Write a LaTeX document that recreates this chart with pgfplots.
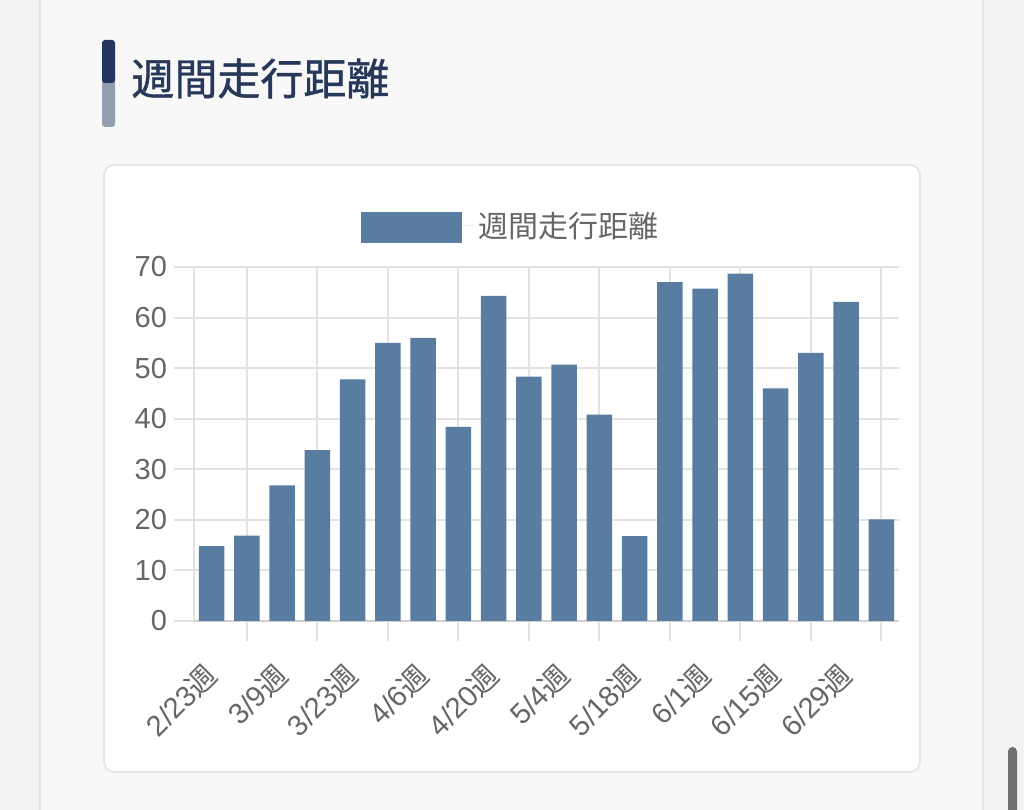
\documentclass[border=0pt]{standalone}
\usepackage{pgfplots}
\usepackage{pgfplotstable}
\pgfplotsset{compat=1.18}
\usepackage{fontspec}
\setmainfont{Liberation Sans}
\newfontfamily\cjk{Noto Sans CJK JP}
\newfontfamily\cjktitle{Noto Sans CJK JP}[FakeBold=1]
\newcommand\wk{{\cjk 週}}

\definecolor{barblue}{HTML}{587DA0}
\definecolor{titlecol}{HTML}{28385A}
\definecolor{accdark}{HTML}{22365F}
\definecolor{accgray}{HTML}{959EAE}
\definecolor{gridcol}{HTML}{E2E2E2}
\definecolor{zerocol}{HTML}{D0D0D0}
\definecolor{ticktext}{HTML}{666666}
\definecolor{outerbg}{HTML}{F3F3F1}
\definecolor{panelbg}{HTML}{F8F8F8}
\definecolor{panelline}{HTML}{E4E4E2}
\definecolor{cardline}{HTML}{E6E6E6}
\definecolor{scrollcol}{HTML}{707070}

\pgfplotstableread{
x y
0 14.8
1 16.9
2 26.8
3 33.8
4 47.8
5 55.0
6 56.0
7 38.4
8 64.3
9 48.3
10 50.7
11 40.8
12 16.8
13 67.0
14 65.7
15 68.7
16 46.0
17 53.0
18 63.1
19 20.1
}\weekdata

\begin{document}
\begin{tikzpicture}[x=0.5bp,y=0.5bp]
\useasboundingbox (0,0) rectangle (1024,810);
\fill[outerbg] (0,0) rectangle (1024,810);
\fill[panelbg] (40,0) rectangle (983,810);
\draw[panelline, line width=1.2bp] (40,0) -- (40,810);
\draw[panelline, line width=1.2bp] (983,0) -- (983,810);
% title accent
\fill[accgray, rounded corners=1.5bp] (102,683) rectangle (115,740);
\fill[accdark, rounded corners=1.5bp] (102,727) rectangle (115,770);
\fill[accgray] (102,693) rectangle (115,727);
\node[anchor=west, inner sep=0pt, text=titlecol, font=\cjktitle\fontsize{21.5bp}{25bp}\selectfont] at (131,731.5) {週間走行距離};
% card
\filldraw[fill=white, draw=cardline, line width=1bp, rounded corners=5bp] (104,38) rectangle (920,645);
% scrollbar
\begin{scope}
\clip (0,0) rectangle (1024,810);
\fill[scrollcol, rounded corners=2.2bp] (1008,-20) rectangle (1017,63);
\end{scope}
\coordinate (axorig) at (194,189);

\begin{axis}[
  at={(axorig)}, anchor=south west,
  scale only axis, width=352.5bp, height=177bp,
  xmin=-0.5, xmax=19.5, ymin=0, ymax=70,
  axis x line*=bottom, axis y line*=left,
  x axis line style={zerocol, line width=1bp},
  y axis line style={gridcol, line width=1bp},
  tick align=outside,
  major tick length=10bp,
  tick style={gridcol, line width=1bp},
  grid style={gridcol, line width=1bp},
  ymajorgrids, xmajorgrids,
  ytick={0,10,...,70},
  xtick={1,3,...,19},
  xticklabels={},
  extra x ticks={0,2,...,18},
  extra x tick labels={2/23\wk,3/9\wk,3/23\wk,4/6\wk,4/20\wk,5/4\wk,5/18\wk,6/1\wk,6/15\wk,6/29\wk},
  extra x tick style={major tick length=0pt, grid=none},
  /pgf/number format/assume math mode=true,
  yticklabel style={text=ticktext, font=\fontsize{14.5bp}{17bp}\selectfont},
  xticklabel style={text=ticktext, font=\fontsize{14.5bp}{17bp}\selectfont, xshift=2.5bp, yshift=-22bp, rotate=45, anchor=east},
  legend style={at={(axis description cs:0.4505,1.116)}, anchor=center, draw=none, fill=none,
     font=\cjk\fontsize{15bp}{18bp}\selectfont, text=ticktext},
  legend image code/.code={\fill[barblue] (0bp,-8.5bp) rectangle (50.5bp,7bp); \path (0bp,0bp) -- (56.5bp,0bp);},
]
\addplot[ybar, bar width=0.72, fill=barblue, draw=none] table[x=x,y=y]{\weekdata};
\addlegendentry{週間走行距離}
\end{axis}
\end{tikzpicture}
\end{document}
